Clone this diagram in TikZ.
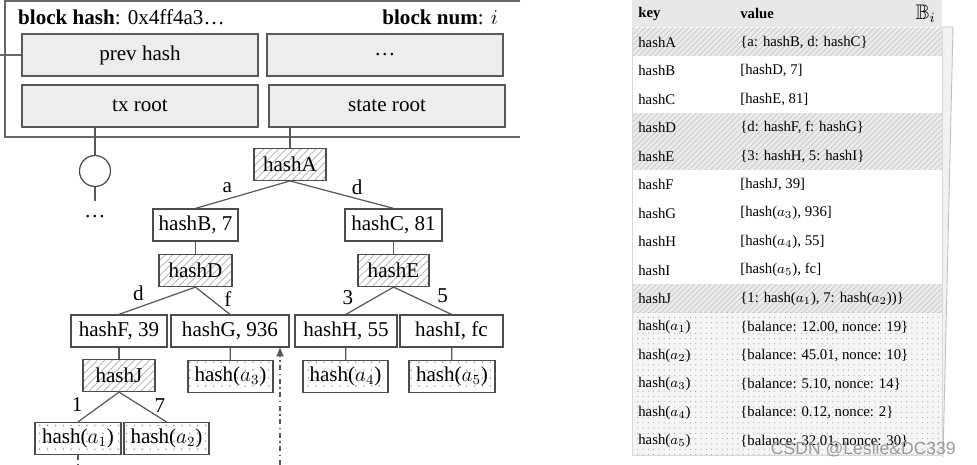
\documentclass[tikz,border=0pt]{standalone}
\usepackage{amssymb}
\usepackage{fontspec}
\setmainfont{Liberation Serif}
\setsansfont{Liberation Sans}
\usetikzlibrary{patterns.meta,arrows.meta,positioning}

\begin{document}
\begin{tikzpicture}[x=0.02cm, y=-0.02cm,
    font=\fontsize{12}{14}\selectfont,
    frame/.style={draw=black!60, line width=0.8pt},
    blk/.style={draw=black!65, fill=black!7, line width=0.7pt, minimum width=4.72cm, minimum height=0.84cm, inner sep=0pt},
    hnode/.style={draw=black!70, line width=0.7pt, minimum height=0.64cm, inner sep=0pt},
    hatchbox/.style={hnode, pattern={Lines[angle=45, distance=3pt, line width=0.5pt]}, pattern color=black!28},
    leafbox/.style={hnode, pattern={Dots[radius=0.45pt, distance=4.5pt]}, pattern color=black!45},
    edge/.style={draw=black!65, line width=0.7pt},
    lbl/.style={inner sep=0pt},
    cell/.style={anchor=west, inner sep=0pt, font=\fontsize{8.4}{10}\selectfont},
    rowh/.style={fill=black!8, postaction={pattern={Lines[angle=45, distance=2.2pt, line width=0.4pt]}, pattern color=black!22}},
    roww/.style={fill=white},
    rowd/.style={fill=black!4, postaction={pattern={Dots[radius=0.35pt, distance=3pt]}, pattern color=black!35}},
    rowline/.style={draw=black!15, line width=0.5pt}]

  \useasboundingbox (0,0) rectangle (977,465);

  % block header
  \node[blk] (prevhash)  at (140,55)  {prev hash};
  \node[blk] (hdots)     at (385,55)  {\dots};
  \node[blk] (txroot)    at (140,106) {tx root};
  \node[blk] (stateroot) at (387,106) {state root};
  \draw[frame] (520,1) -- (5,1) -- (5,137) -- (520,137);
  \draw[frame] (prevhash.west) -- (prevhash.west -| 0,0);
  \node[anchor=west] (bhash) at (12,17) {\textbf{block hash}: 0x4ff4a3\dots};
  \node[anchor=east] (bnum) at (504,17) {\textbf{block num}: $i$};

  % tx trie
  \node[draw=black!70, line width=0.7pt, circle, minimum size=0.62cm, inner sep=0pt] (txtrie) at (95,171) {};
  \node (txmore) at (95,217) {\dots};
  \draw[edge] (txtrie.north |- txroot.south) -- (txtrie.north);
  \draw[edge, shorten >=5pt] (txtrie.south) -- (txmore.north);

  % state trie
  \node[hatchbox, minimum width=1.44cm] (hashA) at (290,164.5) {hashA};
  \node[hnode, minimum width=1.70cm] (hashB) at (195.5,225) {hashB, 7};
  \node[hnode, minimum width=1.94cm] (hashC) at (393.5,225) {hashC, 81};
  \node[hatchbox, minimum width=1.46cm] (hashD) at (195.5,270.5) {hashD};
  \node[hatchbox, minimum width=1.42cm] (hashE) at (393.5,270.5) {hashE};
  \node[hnode, minimum width=1.92cm] (hashF) at (119,331) {hashF, 39};
  \node[hnode, minimum width=2.36cm] (hashG) at (230,331) {hashG, 936};
  \node[hnode, minimum width=2.04cm] (hashH) at (346,331) {hashH, 55};
  \node[hnode, minimum width=2.06cm] (hashI) at (451.5,331) {hashI, fc};
  \node[hatchbox, minimum width=1.44cm] (hashJ) at (119,375.5) {hashJ};
  \node[leafbox, minimum width=1.70cm] (acc3) at (230.5,376.5) {hash($a_3$)};
  \node[leafbox, minimum width=1.70cm] (acc4) at (345.5,376.5) {hash($a_4$)};
  \node[leafbox, minimum width=1.72cm] (acc5) at (452,376.5) {hash($a_5$)};
  \node[leafbox, minimum width=1.72cm] (acc1) at (78,438.5) {hash($a_1$)};
  \node[leafbox, minimum width=1.70cm] (acc2) at (166.5,438.5) {hash($a_2$)};

  \draw[edge] (hashA.north |- stateroot.south) -- (hashA.north);
  \draw[edge] (hashA.south) -- node[lbl, xshift=-8.8pt, yshift=4pt] {a} (hashB.north);
  \draw[edge] (hashA.south) -- node[lbl, xshift=8.8pt, yshift=4pt] {d} (hashC.north);
  \draw[edge] (hashB) -- (hashD);
  \draw[edge] (hashC) -- (hashE);
  \draw[edge] (hashD.south) -- node[lbl, xshift=-10.8pt, yshift=4.3pt] {d} (hashF.north);
  \draw[edge] (hashD.south) -- node[lbl, xshift=8.6pt, yshift=1pt] {f} (hashG.north);
  \draw[edge] (hashE.south) -- node[lbl, xshift=-12.5pt, yshift=2pt] {3} (hashH.north);
  \draw[edge] (hashE.south) -- node[lbl, xshift=11.4pt, yshift=3pt] {5} (hashI.north);
  \draw[edge] (hashF) -- (hashJ);
  \draw[edge] (hashG) -- (acc3);
  \draw[edge] (hashH) -- (acc4);
  \draw[edge] (hashI) -- (acc5);
  \draw[edge] (hashJ.south) -- node[lbl, xshift=-12.2pt, yshift=1.2pt] {1} (acc1.north);
  \draw[edge] (hashJ.south) -- node[lbl, xshift=9.7pt, yshift=0.6pt] {7} (acc2.north);

  \coordinate (probe) at (280,465);
  \draw[edge, dash dot, -{Triangle[length=5pt, width=4pt]}] (probe) -- (probe |- hashG.south);
  \draw[edge, dash dot] (acc1.south) -- ++(0,11);

  % key-value table
  \fill[black!5] (942,27) -- (953,27) -- (943,457) -- (942,457) -- cycle;
  \draw[draw=black!25, line width=0.5pt] (942,27) -- (953,27) -- (943,457);
  \fill[black!9] (632,0) rectangle (942,27);
  \node[cell, font=\fontsize{8.4}{10}\selectfont\bfseries] (keyhead) at (638,13.5) {key};
  \node[cell, font=\fontsize{8.4}{10}\selectfont\bfseries] (valhead) at (740,13.5) {value};
  \node[anchor=east, inner sep=0pt] (bhead) at (936,14) {$\mathbb{B}_i$};

  \foreach \k/\v/\s [count=\n from 0] in {
      hashA/{\{a: hashB, d: hashC\}}/h,
      hashB/{[hashD, 7]}/w,
      hashC/{[hashE, 81]}/w,
      hashD/{\{d: hashF, f: hashG\}}/h,
      hashE/{\{3: hashH, 5: hashI\}}/h,
      hashF/{[hashJ, 39]}/w,
      hashG/{[hash($a_3$), 936]}/w,
      hashH/{[hash($a_4$), 55]}/w,
      hashI/{[hash($a_5$), fc]}/w,
      hashJ/{\{1: hash($a_1$), 7: hash($a_2$))\}}/h,
      hash($a_1$)/{\{balance: 12.00, nonce: 19\}}/d,
      hash($a_2$)/{\{balance: 45.01, nonce: 10\}}/d,
      hash($a_3$)/{\{balance: 5.10, nonce: 14\}}/d,
      hash($a_4$)/{\{balance: 0.12, nonce: 2\}}/d,
      hash($a_5$)/{\{balance: 32.01, nonce: 30\}}/d}{
    \path[row\s] (632,28+28.5*\n) rectangle (942,56.5+28.5*\n);
    \draw[rowline] (632,56.5+28.5*\n) -- (942,56.5+28.5*\n);
    \node[cell] (key\n) at (638,42.25+28.5*\n) {\k};
    \node[cell] (val\n) at (740,42.25+28.5*\n) {\v};
  }
  \draw[rowline] (632,27) -- (632,455.5) -- (942,455.5) -- (942,27);

  \node[anchor=east, font=\sffamily\fontsize{10}{12}\selectfont, text=black!40] (wmark) at (962,449) {CSDN @Leslie\&DC339};
\end{tikzpicture}
\end{document}
